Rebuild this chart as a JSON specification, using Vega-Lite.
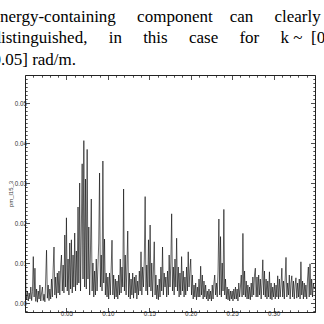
{
  "$schema": "https://vega.github.io/schema/vega-lite/v6.json",
  "autosize": "none",
  "width": 290,
  "height": 237,
  "padding": {"left": 25, "top": 75, "right": 9, "bottom": 12},
  "background": "white",
  "config": {"view": {"stroke": null}},
  "title": {
    "text": [
      "energy-containing\u00a0\u00a0\u00a0\u00a0\u00a0component\u00a0\u00a0\u00a0\u00a0can\u00a0\u00a0\u00a0\u00a0\u00a0clearly",
      "distinguished,\u00a0\u00a0\u00a0\u00a0\u00a0in\u00a0\u00a0\u00a0\u00a0\u00a0this\u00a0\u00a0\u00a0\u00a0\u00a0case\u00a0\u00a0\u00a0\u00a0\u00a0for\u00a0\u00a0\u00a0\u00a0\u00a0k\u00a0~\u00a0\u00a0[0,",
      "0.05] rad/m."
    ],
    "anchor": "start",
    "frame": "group",
    "dx": -32.5,
    "dy": 21,
    "offset": 10,
    "baseline": "bottom",
    "font": "Liberation Serif",
    "fontSize": 17,
    "fontWeight": "normal",
    "lineHeight": 21.3,
    "color": "black"
  },
  "data": {
    "values": [
      {"k":0.000,"p":0.0195},{"k":0.001,"p":0.0035},{"k":0.002,"p":0.0008},{"k":0.003,"p":0.003},{"k":0.004,"p":0.0005},{"k":0.005,"p":0.0025},{"k":0.006,"p":0.001},{"k":0.007,"p":0.004},{"k":0.008,"p":0.0006},{"k":0.009,"p":0.0028},
      {"k":0.010,"p":0.0116},{"k":0.011,"p":0.0015},{"k":0.012,"p":0.0087},{"k":0.013,"p":0.0004},{"k":0.014,"p":0.0035},{"k":0.015,"p":0.0002},{"k":0.016,"p":0.003},{"k":0.017,"p":0.001},{"k":0.018,"p":0.0045},{"k":0.019,"p":0.0005},
      {"k":0.020,"p":0.0025},{"k":0.021,"p":0.004},{"k":0.022,"p":0.0006},{"k":0.023,"p":0.0022},{"k":0.024,"p":0.0003},{"k":0.025,"p":0.006},{"k":0.026,"p":0.0132},{"k":0.027,"p":0.0012},{"k":0.028,"p":0.0045},{"k":0.029,"p":0.0006},
      {"k":0.030,"p":0.0035},{"k":0.031,"p":0.001},{"k":0.032,"p":0.006},{"k":0.033,"p":0.0015},{"k":0.034,"p":0.0085},{"k":0.035,"p":0.014},{"k":0.036,"p":0.002},{"k":0.037,"p":0.0065},{"k":0.038,"p":0.0012},{"k":0.039,"p":0.0075},
      {"k":0.040,"p":0.0025},{"k":0.041,"p":0.008},{"k":0.042,"p":0.002},{"k":0.043,"p":0.009},{"k":0.044,"p":0.012},{"k":0.045,"p":0.003},{"k":0.046,"p":0.0095},{"k":0.047,"p":0.0025},{"k":0.048,"p":0.017},{"k":0.049,"p":0.004},
      {"k":0.050,"p":0.0213},{"k":0.051,"p":0.003},{"k":0.052,"p":0.011},{"k":0.053,"p":0.002},{"k":0.054,"p":0.015},{"k":0.055,"p":0.0035},{"k":0.056,"p":0.0158},{"k":0.057,"p":0.0025},{"k":0.058,"p":0.012},{"k":0.059,"p":0.004},
      {"k":0.060,"p":0.0175},{"k":0.061,"p":0.003},{"k":0.062,"p":0.013},{"k":0.063,"p":0.0045},{"k":0.064,"p":0.024},{"k":0.065,"p":0.005},{"k":0.066,"p":0.030},{"k":0.067,"p":0.003},{"k":0.068,"p":0.018},{"k":0.069,"p":0.0348},
      {"k":0.070,"p":0.006},{"k":0.071,"p":0.0406},{"k":0.072,"p":0.004},{"k":0.073,"p":0.031},{"k":0.074,"p":0.0035},{"k":0.075,"p":0.0384},{"k":0.076,"p":0.006},{"k":0.077,"p":0.019},{"k":0.078,"p":0.002},{"k":0.079,"p":0.013},
      {"k":0.080,"p":0.026},{"k":0.081,"p":0.003},{"k":0.082,"p":0.010},{"k":0.083,"p":0.0015},{"k":0.084,"p":0.008},{"k":0.085,"p":0.002},{"k":0.086,"p":0.011},{"k":0.087,"p":0.003},{"k":0.088,"p":0.009},{"k":0.089,"p":0.015},
      {"k":0.090,"p":0.0325},{"k":0.091,"p":0.004},{"k":0.092,"p":0.012},{"k":0.093,"p":0.003},{"k":0.094,"p":0.0355},{"k":0.095,"p":0.005},{"k":0.096,"p":0.016},{"k":0.097,"p":0.002},{"k":0.098,"p":0.0075},{"k":0.099,"p":0.0015},
      {"k":0.100,"p":0.0065},{"k":0.101,"p":0.001},{"k":0.102,"p":0.0075},{"k":0.103,"p":0.002},{"k":0.104,"p":0.0085},{"k":0.105,"p":0.0157},{"k":0.106,"p":0.002},{"k":0.107,"p":0.007},{"k":0.108,"p":0.001},{"k":0.109,"p":0.006},
      {"k":0.110,"p":0.0015},{"k":0.111,"p":0.0055},{"k":0.112,"p":0.001},{"k":0.113,"p":0.007},{"k":0.114,"p":0.002},{"k":0.115,"p":0.011},{"k":0.116,"p":0.0025},{"k":0.117,"p":0.009},{"k":0.118,"p":0.004},{"k":0.119,"p":0.0285},
      {"k":0.120,"p":0.003},{"k":0.121,"p":0.012},{"k":0.122,"p":0.002},{"k":0.123,"p":0.009},{"k":0.124,"p":0.018},{"k":0.125,"p":0.0015},{"k":0.126,"p":0.0075},{"k":0.127,"p":0.001},{"k":0.128,"p":0.006},{"k":0.129,"p":0.002},
      {"k":0.130,"p":0.0075},{"k":0.131,"p":0.0012},{"k":0.132,"p":0.0065},{"k":0.133,"p":0.0025},{"k":0.134,"p":0.007},{"k":0.135,"p":0.001},{"k":0.136,"p":0.0055},{"k":0.137,"p":0.002},{"k":0.138,"p":0.008},{"k":0.139,"p":0.003},
      {"k":0.140,"p":0.0128},{"k":0.141,"p":0.002},{"k":0.142,"p":0.009},{"k":0.143,"p":0.004},{"k":0.144,"p":0.011},{"k":0.145,"p":0.0266},{"k":0.146,"p":0.003},{"k":0.147,"p":0.0095},{"k":0.148,"p":0.002},{"k":0.149,"p":0.0158},
      {"k":0.150,"p":0.004},{"k":0.151,"p":0.0195},{"k":0.152,"p":0.003},{"k":0.153,"p":0.010},{"k":0.154,"p":0.0015},{"k":0.155,"p":0.008},{"k":0.156,"p":0.0153},{"k":0.157,"p":0.002},{"k":0.158,"p":0.007},{"k":0.159,"p":0.001},
      {"k":0.160,"p":0.0045},{"k":0.161,"p":0.0008},{"k":0.162,"p":0.006},{"k":0.163,"p":0.0015},{"k":0.164,"p":0.009},{"k":0.165,"p":0.003},{"k":0.166,"p":0.014},{"k":0.167,"p":0.002},{"k":0.168,"p":0.0075},{"k":0.169,"p":0.004},
      {"k":0.170,"p":0.0065},{"k":0.171,"p":0.0015},{"k":0.172,"p":0.008},{"k":0.173,"p":0.002},{"k":0.174,"p":0.012},{"k":0.175,"p":0.004},{"k":0.176,"p":0.010},{"k":0.177,"p":0.0223},{"k":0.178,"p":0.003},{"k":0.179,"p":0.009},
      {"k":0.180,"p":0.002},{"k":0.181,"p":0.011},{"k":0.182,"p":0.004},{"k":0.183,"p":0.0162},{"k":0.184,"p":0.003},{"k":0.185,"p":0.009},{"k":0.186,"p":0.0015},{"k":0.187,"p":0.0075},{"k":0.188,"p":0.002},{"k":0.189,"p":0.0116},
      {"k":0.190,"p":0.003},{"k":0.191,"p":0.008},{"k":0.192,"p":0.0015},{"k":0.193,"p":0.0065},{"k":0.194,"p":0.002},{"k":0.195,"p":0.009},{"k":0.196,"p":0.003},{"k":0.197,"p":0.0128},{"k":0.198,"p":0.004},{"k":0.199,"p":0.008},
      {"k":0.200,"p":0.011},{"k":0.201,"p":0.002},{"k":0.202,"p":0.007},{"k":0.203,"p":0.001},{"k":0.204,"p":0.0045},{"k":0.205,"p":0.0015},{"k":0.206,"p":0.005},{"k":0.207,"p":0.0008},{"k":0.208,"p":0.004},{"k":0.209,"p":0.0015},
      {"k":0.210,"p":0.006},{"k":0.211,"p":0.0015},{"k":0.212,"p":0.0092},{"k":0.213,"p":0.002},{"k":0.214,"p":0.007},{"k":0.215,"p":0.001},{"k":0.216,"p":0.0055},{"k":0.217,"p":0.0015},{"k":0.218,"p":0.0045},{"k":0.219,"p":0.001},
      {"k":0.220,"p":0.003},{"k":0.221,"p":0.0005},{"k":0.222,"p":0.0035},{"k":0.223,"p":0.001},{"k":0.224,"p":0.003},{"k":0.225,"p":0.0005},{"k":0.226,"p":0.0045},{"k":0.227,"p":0.001},{"k":0.228,"p":0.005},{"k":0.229,"p":0.007},
      {"k":0.230,"p":0.002},{"k":0.231,"p":0.005},{"k":0.232,"p":0.0015},{"k":0.233,"p":0.008},{"k":0.234,"p":0.021},{"k":0.235,"p":0.002},{"k":0.236,"p":0.0166},{"k":0.237,"p":0.0015},{"k":0.238,"p":0.010},{"k":0.239,"p":0.003},
      {"k":0.240,"p":0.0234},{"k":0.241,"p":0.002},{"k":0.242,"p":0.006},{"k":0.243,"p":0.001},{"k":0.244,"p":0.004},{"k":0.245,"p":0.0008},{"k":0.246,"p":0.0035},{"k":0.247,"p":0.0005},{"k":0.248,"p":0.003},{"k":0.249,"p":0.001},
      {"k":0.250,"p":0.003},{"k":0.251,"p":0.0005},{"k":0.252,"p":0.0035},{"k":0.253,"p":0.001},{"k":0.254,"p":0.004},{"k":0.255,"p":0.001},{"k":0.256,"p":0.0035},{"k":0.257,"p":0.0005},{"k":0.258,"p":0.005},{"k":0.259,"p":0.0015},
      {"k":0.260,"p":0.004},{"k":0.261,"p":0.007},{"k":0.262,"p":0.0015},{"k":0.263,"p":0.0174},{"k":0.264,"p":0.002},{"k":0.265,"p":0.008},{"k":0.266,"p":0.0015},{"k":0.267,"p":0.0055},{"k":0.268,"p":0.001},{"k":0.269,"p":0.0045},
      {"k":0.270,"p":0.001},{"k":0.271,"p":0.004},{"k":0.272,"p":0.0008},{"k":0.273,"p":0.005},{"k":0.274,"p":0.0015},{"k":0.275,"p":0.0065},{"k":0.276,"p":0.002},{"k":0.277,"p":0.007},{"k":0.278,"p":0.0087},{"k":0.279,"p":0.0015},
      {"k":0.280,"p":0.0065},{"k":0.281,"p":0.0015},{"k":0.282,"p":0.007},{"k":0.283,"p":0.002},{"k":0.284,"p":0.006},{"k":0.285,"p":0.001},{"k":0.286,"p":0.005},{"k":0.287,"p":0.0108},{"k":0.288,"p":0.002},{"k":0.289,"p":0.008},
      {"k":0.290,"p":0.0015},{"k":0.291,"p":0.006},{"k":0.292,"p":0.001},{"k":0.293,"p":0.0055},{"k":0.294,"p":0.0015},{"k":0.295,"p":0.0078},{"k":0.296,"p":0.001},{"k":0.297,"p":0.005},{"k":0.298,"p":0.0008},{"k":0.299,"p":0.004},
      {"k":0.300,"p":0.0015},{"k":0.301,"p":0.005},{"k":0.302,"p":0.001},{"k":0.303,"p":0.0045},{"k":0.304,"p":0.0015},{"k":0.305,"p":0.0068},{"k":0.306,"p":0.001},{"k":0.307,"p":0.006},{"k":0.308,"p":0.0015},{"k":0.309,"p":0.0045},
      {"k":0.310,"p":0.0087},{"k":0.311,"p":0.0015},{"k":0.312,"p":0.0055},{"k":0.313,"p":0.001},{"k":0.314,"p":0.006},{"k":0.315,"p":0.0114},{"k":0.316,"p":0.0015},{"k":0.317,"p":0.005},{"k":0.318,"p":0.002},{"k":0.319,"p":0.007},
      {"k":0.320,"p":0.001},{"k":0.321,"p":0.005},{"k":0.322,"p":0.0068},{"k":0.323,"p":0.0015},{"k":0.324,"p":0.0055},{"k":0.325,"p":0.001},{"k":0.326,"p":0.0045},{"k":0.327,"p":0.0063},{"k":0.328,"p":0.0012},{"k":0.329,"p":0.005},
      {"k":0.330,"p":0.0015},{"k":0.331,"p":0.006},{"k":0.332,"p":0.001},{"k":0.333,"p":0.0103},{"k":0.334,"p":0.002},{"k":0.335,"p":0.0055},{"k":0.336,"p":0.001},{"k":0.337,"p":0.005},{"k":0.338,"p":0.0015},{"k":0.339,"p":0.0045},
      {"k":0.340,"p":0.001},{"k":0.341,"p":0.006},{"k":0.342,"p":0.009},{"k":0.343,"p":0.0015},{"k":0.344,"p":0.0098},{"k":0.345,"p":0.002},{"k":0.346,"p":0.006},{"k":0.347,"p":0.0015},{"k":0.348,"p":0.005},{"k":0.349,"p":0.0035},
      {"k":0.350,"p":0.004}
    ]
  },
  "layer": [
    {
      "mark": {"type": "line", "color": "black", "strokeWidth": 0.6, "clip": true},
      "encoding": {
        "x": {
          "field": "k", "type": "quantitative",
          "scale": {"domain": [0, 0.35], "nice": false, "zero": false},
          "axis": {
            "orient": "bottom",
            "title": null,
            "grid": false,
            "values": [0,0.01,0.02,0.03,0.04,0.05,0.06,0.07,0.08,0.09,0.1,0.11,0.12,0.13,0.14,0.15,0.16,0.17,0.18,0.19,0.2,0.21,0.22,0.23,0.24,0.25,0.26,0.27,0.28,0.29,0.3,0.31,0.32,0.33,0.34,0.35],
            "labelExpr": "(abs(datum.value*20 - round(datum.value*20)) < 1e-6 && datum.value > 0.001 && datum.value < 0.349) ? format(datum.value, '.2f') : ''",
            "labelFont": "Liberation Sans",
            "labelFontSize": 6.3,
            "labelColor": "#333",
            "labelPadding": 3,
            "labelFlush": false,
            "labelOverlap": false,
            "domainColor": "#222",
            "domainWidth": 1,
            "tickColor": "#222",
            "tickWidth": 0.8,
            "tickSize": {"condition": {"test": "abs(datum.value*20 - round(datum.value*20)) < 1e-6", "value": -4.5}, "value": -2.2}
          }
        },
        "y": {
          "field": "p", "type": "quantitative",
          "scale": {"domain": [-0.00225, 0.057], "nice": false, "zero": false},
          "axis": {
            "orient": "left",
            "title": "pm_l15_3",
            "titleFont": "Liberation Sans",
            "titleFontSize": 6,
            "titleFontWeight": "normal",
            "titleColor": "#333",
            "titlePadding": 1,
            "grid": false,
            "values": [-0.002,-0.001,0,0.001,0.002,0.003,0.004,0.005,0.006,0.007,0.008,0.009,0.01,0.011,0.012,0.013,0.014,0.015,0.016,0.017,0.018,0.019,0.02,0.021,0.022,0.023,0.024,0.025,0.026,0.027,0.028,0.029,0.03,0.031,0.032,0.033,0.034,0.035,0.036,0.037,0.038,0.039,0.04,0.041,0.042,0.043,0.044,0.045,0.046,0.047,0.048,0.049,0.05,0.051,0.052,0.053,0.054,0.055,0.056],
            "labelExpr": "abs(datum.value*100 - round(datum.value*100)) < 1e-6 ? format(datum.value, '.2f') : ''",
            "labelFont": "Liberation Sans",
            "labelFontSize": 6.3,
            "labelColor": "#333",
            "labelPadding": 3,
            "labelFlush": false,
            "labelOverlap": false,
            "domainColor": "#222",
            "domainWidth": 1,
            "tickColor": "#222",
            "tickWidth": 0.8,
            "tickSize": {"condition": {"test": "abs(datum.value*100 - round(datum.value*100)) < 1e-6", "value": -4.5}, "value": -2.2}
          }
        }
      }
    },
    {
      "mark": {"type": "line", "strokeOpacity": 0},
      "encoding": {
        "x": {
          "field": "k", "type": "quantitative",
          "axis": {
            "orient": "top",
            "title": null,
            "grid": false,
            "labels": false,
            "values": [0,0.01,0.02,0.03,0.04,0.05,0.06,0.07,0.08,0.09,0.1,0.11,0.12,0.13,0.14,0.15,0.16,0.17,0.18,0.19,0.2,0.21,0.22,0.23,0.24,0.25,0.26,0.27,0.28,0.29,0.3,0.31,0.32,0.33,0.34,0.35],
            "domainColor": "#222",
            "domainWidth": 1,
            "tickColor": "#222",
            "tickWidth": 0.8,
            "tickSize": {"condition": {"test": "abs(datum.value*20 - round(datum.value*20)) < 1e-6", "value": -4.5}, "value": -2.2}
          }
        },
        "y": {
          "field": "p", "type": "quantitative",
          "axis": {
            "orient": "right",
            "title": null,
            "grid": false,
            "labels": false,
            "values": [-0.002,-0.001,0,0.001,0.002,0.003,0.004,0.005,0.006,0.007,0.008,0.009,0.01,0.011,0.012,0.013,0.014,0.015,0.016,0.017,0.018,0.019,0.02,0.021,0.022,0.023,0.024,0.025,0.026,0.027,0.028,0.029,0.03,0.031,0.032,0.033,0.034,0.035,0.036,0.037,0.038,0.039,0.04,0.041,0.042,0.043,0.044,0.045,0.046,0.047,0.048,0.049,0.05,0.051,0.052,0.053,0.054,0.055,0.056],
            "domainColor": "#222",
            "domainWidth": 1,
            "tickColor": "#222",
            "tickWidth": 0.8,
            "tickSize": {"condition": {"test": "abs(datum.value*100 - round(datum.value*100)) < 1e-6", "value": -4.5}, "value": -2.2}
          }
        }
      }
    }
  ],
  "resolve": {"axis": {"x": "independent", "y": "independent"}}
}
